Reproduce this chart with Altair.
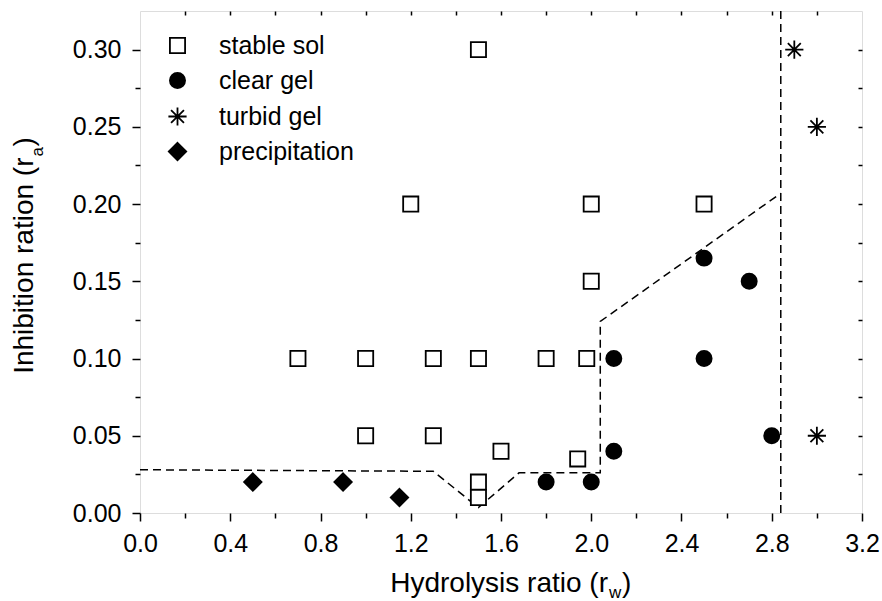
import altair as alt
import pandas as pd

FONT = "Liberation Sans"

# ---- data ----
categories = ["stable sol", "clear gel", "turbid gel", "precipitation"]

sol_x = [1.5, 1.2, 2.0, 2.5, 2.0, 0.7, 1.0, 1.3, 1.5, 1.8, 1.98, 1.0, 1.3, 1.6, 1.94, 1.5, 1.5]
sol_y = [0.30, 0.20, 0.20, 0.20, 0.15, 0.10, 0.10, 0.10, 0.10, 0.10, 0.10, 0.05, 0.05, 0.04, 0.035, 0.02, 0.01]

gel_x = [2.5, 2.7, 2.1, 2.5, 2.1, 2.8, 1.8, 2.0]
gel_y = [0.165, 0.15, 0.10, 0.10, 0.04, 0.05, 0.02, 0.02]

turbid_x = [2.9, 3.0, 3.0]
turbid_y = [0.30, 0.25, 0.05]

precip_x = [0.5, 0.9, 1.15]
precip_y = [0.02, 0.02, 0.01]

# dashed phase boundary
bound_x = [0.0, 1.3, 1.5, 1.68, 2.04, 2.04, 2.84]
bound_y = [0.028, 0.027, 0.0035, 0.026, 0.026, 0.124, 0.207]
vline_x = [2.84, 2.84]
vline_y = [0.0, 0.325]

x_major = [0.0, 0.4, 0.8, 1.2, 1.6, 2.0, 2.4, 2.8, 3.2]
x_minor = [0.2, 0.6, 1.0, 1.4, 1.8, 2.2, 2.6, 3.0]
x_all = [0.2, 0.4, 0.6, 0.8, 1.0, 1.2, 1.4, 1.6, 1.8, 2.0, 2.2, 2.4, 2.6, 2.8, 3.0]
y_major = [0.0, 0.05, 0.10, 0.15, 0.20, 0.25, 0.30]
y_minor = [0.025, 0.075, 0.125, 0.175, 0.225, 0.275]
y_all = [0.025, 0.05, 0.075, 0.10, 0.125, 0.15, 0.175, 0.20, 0.225, 0.25, 0.275, 0.30]

# ---- tables ----
rows = []
for cat, xs_, ys_ in zip(categories, [sol_x, gel_x, turbid_x, precip_x], [sol_y, gel_y, turbid_y, precip_y]):
    for a, b in zip(xs_, ys_):
        rows.append({"x": a, "y": b, "cat": cat})
pts = pd.DataFrame(rows)
bdf = pd.DataFrame({"x": bound_x, "y": bound_y, "i": list(range(len(bound_x)))})
vdf = pd.DataFrame({"x": vline_x, "y": vline_y, "i": [0, 1]})

W, H = 722, 502
xs = alt.Scale(domain=[0, 3.2], nice=False, zero=False)
ys = alt.Scale(domain=[0, 0.325], nice=False, zero=False)

tick_ax = dict(grid=False, domain=False, title=None, tickColor="black", tickWidth=1.5)
base_ax = dict(tick_ax, labelColor="black", labelFont=FONT, labelFontSize=25, labelFlush=False,
               labelOverlap=False, labelBound=False)

asterisk = "M0,-1.2L0,1.2M-1.2,0L1.2,0M-0.85,-0.85L0.85,0.85M-0.85,0.85L0.85,-0.85"
diamond = "M0,-1.15L1.15,0L0,1.15L-1.15,0Z"
shapes = ["square", "circle", asterisk, diamond]
fills = ["white", "black", "transparent", "black"]
strokes = ["black", "black", "black", "black"]

dash = [8, 5]

boundary = alt.Chart(bdf).mark_line(color="black", strokeDash=dash, strokeWidth=1.5).encode(
    x=alt.X("x:Q", scale=xs, axis=alt.Axis(orient="top", values=x_all, tickSize=4, offset=-4,
                                           labels=False, **tick_ax)),
    y=alt.Y("y:Q", scale=ys, axis=alt.Axis(orient="right", values=y_all, tickSize=4, offset=-4,
                                           labels=False, **tick_ax)),
    order="i:O",
)

vline = alt.Chart(vdf).mark_line(color="black", strokeDash=dash, strokeWidth=1.5).encode(
    x=alt.X("x:Q", scale=xs, axis=alt.Axis(orient="bottom", values=x_minor, tickSize=5,
                                           labels=False, **tick_ax)),
    y=alt.Y("y:Q", scale=ys, axis=alt.Axis(orient="left", values=y_minor, tickSize=5,
                                           labels=False, **tick_ax)),
    order="i:O",
)

leg = dict(title=None, orient="none", legendX=25, legendY=22, labelFont=FONT, labelFontSize=25,
           labelColor="black", symbolSize=230, symbolStrokeWidth=1.8,
           rowPadding=9, labelOffset=29, padding=0, labelLimit=400)

points = alt.Chart(pts).mark_point(strokeWidth=1.8, opacity=1, size=230).encode(
    x=alt.X("x:Q", scale=xs, axis=alt.Axis(orient="bottom", values=x_major, format=".1f",
                                           tickSize=8, labelPadding=10, **base_ax)),
    y=alt.Y("y:Q", scale=ys, axis=alt.Axis(orient="left", values=y_major, format=".2f",
                                           tickSize=8, labelPadding=11, **base_ax)),
    shape=alt.Shape("cat:N", scale=alt.Scale(domain=categories, range=shapes), legend=alt.Legend(**leg)),
    fill=alt.Fill("cat:N", scale=alt.Scale(domain=categories, range=fills), legend=alt.Legend(**leg)),
    stroke=alt.Stroke("cat:N", scale=alt.Scale(domain=categories, range=strokes), legend=alt.Legend(**leg)),
)

one = alt.Data(values=[{}])


def txt(text, x, y, size, align, angle=0):
    kw = dict(text=text, font=FONT, fontSize=size, align=align, baseline="alphabetic", color="black")
    if angle:
        kw["angle"] = angle
    return alt.Chart(one).mark_text(**kw).encode(x=alt.value(x), y=alt.value(y))


xt_main = txt("Hydrolysis ratio (r", 468, 580.7, 28, "right")
xt_sub = txt("w", 469, 586.5, 17, "left")
xt_close = txt(")", 482, 580.7, 28, "left")

yt_main = txt("Inhibition ration (r", -107, 146.5, 28, "right", 270)
yt_sub = txt("a", -97, 145.5, 17, "left", 270)
yt_close = txt(")", -107, 135.5, 28, "left", 270)

chart = alt.layer(boundary, vline, points, xt_main, xt_sub, xt_close, yt_main, yt_sub, yt_close).resolve_scale(
    x="shared", y="shared"
).resolve_axis(x="independent", y="independent").properties(
    width=W, height=H,
    autosize=alt.AutoSizeParams(type="none"),
    padding={"left": 140, "top": 11, "right": 20, "bottom": 88},
).configure_view(stroke="black", strokeWidth=2).configure(font=FONT, background="white")

chart.save("out.html", embed_options={"renderer": "svg", "actions": False})
